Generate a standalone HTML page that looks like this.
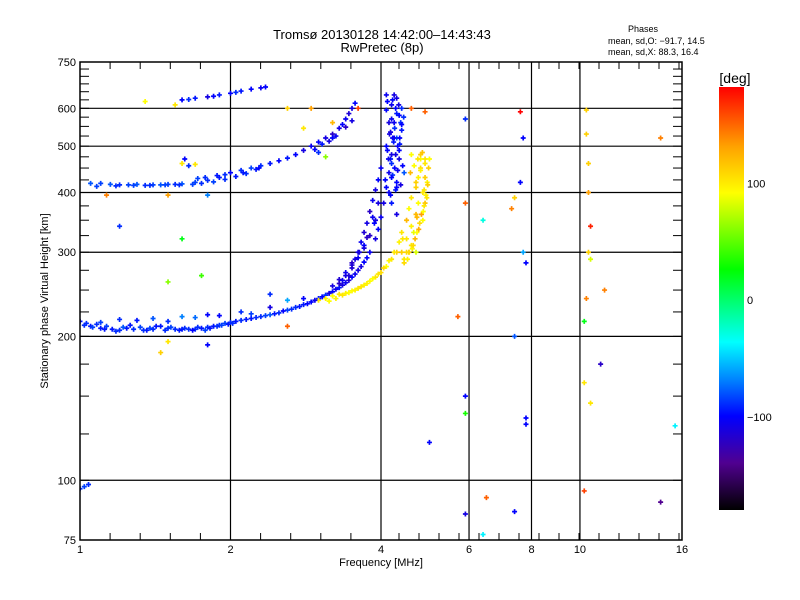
<!DOCTYPE html>
<html><head><meta charset="utf-8"><style>
html,body{margin:0;padding:0;background:#fff;}
svg{display:block;font-family:"Liberation Sans",sans-serif;}
</style></head><body>
<svg id="chart" width="800" height="600" viewBox="0 0 800 600">
<defs>
<linearGradient id="cbg" x1="0" y1="0" x2="0" y2="1">
<stop offset="0" stop-color="#ff0000"/><stop offset="0.139" stop-color="#ffa000"/>
<stop offset="0.25" stop-color="#ffff00"/><stop offset="0.431" stop-color="#00ff00"/>
<stop offset="0.603" stop-color="#00ffff"/><stop offset="0.694" stop-color="#0080ff"/>
<stop offset="0.778" stop-color="#0000ff"/><stop offset="0.889" stop-color="#500090"/>
<stop offset="1" stop-color="#000000"/>
</linearGradient>
<clipPath id="pc"><rect x="80" y="62" width="602" height="478"/></clipPath>
</defs>
<text x="382" y="39" text-anchor="middle" font-size="13">Tromsø 20130128 14:42:00–14:43:43</text>
<text x="382" y="52" text-anchor="middle" font-size="13">RwPretec (8p)</text>
<text x="643" y="32" text-anchor="middle" font-size="9">Phases</text>
<text x="608" y="44" font-size="9">mean, sd,O: −91.7, 14.5</text>
<text x="608" y="55" font-size="9">mean, sd,X:  88.3, 16.4</text>
<g id="grid"></g>
<g id="marks" clip-path="url(#pc)"></g>
<rect x="80" y="62" width="602" height="478" fill="none" stroke="#000" stroke-width="1.5"/>
<g id="ticks"></g>
<text x="381" y="566" text-anchor="middle" font-size="11">Frequency [MHz]</text>
<text transform="translate(48,301) rotate(-90)" text-anchor="middle" font-size="11">Stationary phase Virtual Height [km]</text>
<rect x="719" y="87" width="25" height="423" fill="url(#cbg)"/>
<text x="735" y="83" text-anchor="middle" font-size="14">[deg]</text>
<g id="cbticks"></g>
</svg>
<script>
const xTicks=[1,2,4,6,8,10,16];
const yTicks=[75,100,200,300,400,500,600,750];
const yGrid=[100,200,300,400,500,600];
const xGrid=[2,4,6,8,10];
const cbLabels=[100,0,-100];
const F=[1.0,1.03,1.05,1.08,1.1,1.13,1.16,1.2,1.24,1.28,1.32,1.36,1.4,1.45,1.5,1.55,1.6,1.65,1.7,1.75,1.8,1.85,1.9,1.95,2.0,2.05,2.1,2.2,2.3,2.4,2.5,2.6,2.7,2.8,2.9,3.0,3.1,3.2,3.3,3.4,3.5,3.6,3.7,3.8,3.9,3.95,4.0,4.05,4.1,4.15,4.2,4.22,4.25,4.28,4.3,
1.2,1.4,1.6,1.8,2.1,2.4,2.6,2.8,1.1,1.3,1.5,1.7,1.9,2.2,
3.2,3.3,3.4,3.5,3.6,3.65,3.7,3.75,3.8,3.85,3.9,3.95,4.0,3.45,3.55,3.7,3.85,
4.15,4.3,4.2,4.35,4.1,4.3,4.4,4.15,4.35,4.2,4.4,4.25,4.35,4.45,4.1,4.2,4.3,4.12,4.38,4.25,
3.0,3.1,3.2,3.3,3.4,3.5,3.6,3.7,3.8,3.9,4.0,4.1,4.2,4.3,4.35,4.4,4.5,4.55,4.6,4.7,4.75,4.8,4.8,4.4,4.5,4.6,4.7,4.75,4.85,4.9,4.7,4.6,4.85,4.9,4.95,4.9,4.8,4.65,4.55,4.45,
1.05,1.1,1.15,1.2,1.25,1.3,1.35,1.4,1.45,1.5,1.55,1.6,1.7,1.8,1.9,2.0,2.1,2.2,2.3,2.4,2.5,2.6,2.7,2.8,2.9,3.0,3.1,3.2,3.3,3.35,3.4,3.45,3.5,3.55,
1.6,1.65,1.7,1.8,1.85,1.9,2.0,2.05,2.1,2.2,2.3,2.35,
1.6,1.65,1.7,1.62,1.0,1.02,1.04,
1.13,1.5,1.8,1.2,1.6,1.5,1.75,5.9,5.9,6.4,7.3,7.6,7.7,7.6,7.4,7.7,7.8,7.4,5.7,5.9,5.9,7.8,7.8,5.0,10.3,10.3,10.4,10.4,10.5,10.4,10.5,10.3,10.2,10.2,11,11.2,10.5,14.5,15.5,10.2,14.5,6.5,5.9,6.4,7.4,1.5,1.8,1.45,2.6,2.4,3.6,2.6,2.8,3.2,4.6,4.9,1.35,1.55,2.9,3.1,
1.02,1.06,1.12,1.18,1.22,1.26,1.34,1.38,1.42,1.48,1.52,1.58,1.62,1.68,1.72,1.78,1.82,1.88,1.92,1.98,2.02,2.15,2.25,2.35,2.45,2.55,2.65,2.75,2.85,2.95,3.05,3.15,3.25,3.35,3.45,3.55,3.65,3.75,
3.3,3.4,3.5,3.6,3.7,3.8,3.9,3.35,3.5,3.62,3.75,3.88,3.95,
4.18,4.28,4.38,4.08,4.22,4.32,4.42,4.18,4.28,4.12,4.32,4.24,4.36,4.16,4.26,4.4,4.2,4.3,4.1,4.34,4.22,4.44,4.14,4.26,4.36,4.18,4.3,4.2,
4.45,4.55,4.62,4.68,4.72,4.78,4.82,4.88,4.92,4.96,4.58,4.66,4.74,4.84,4.52,4.64,4.76,4.86,4.94,4.7,4.8,4.9,4.6,4.5,4.42,4.98,5.0,4.72,4.88,3.15,3.25,3.35,3.45,3.55,3.65,3.75,3.85,3.95,4.05,4.15,4.25,
2.95,3.05,3.15,3.25,3.4,3.5,3.0,3.2,1.08,1.18,1.28,1.38,1.48,1.58,1.68,1.75,1.85,1.95,2.05,2.15,2.25,1.72,1.78,1.88,1.95,2.12,2.28];
const H=[215,213,210,212,208,210,207,206,208,207,209,206,207,210,208,207,207,207,207,208,209,210,211,213,214,215,216,218,220,222,224,227,230,233,236,240,244,248,253,259,266,275,286,300,320,335,355,380,410,440,480,520,560,600,630,
217,218,220,222,225,230,238,240,214,216,215,219,221,223,
255,263,272,285,300,315,330,345,365,385,405,425,450,268,290,310,355,
400,420,460,470,500,520,540,560,580,610,600,640,490,440,640,380,360,620,560,520,
238,240,243,245,246,249,252,256,261,266,272,280,290,300,315,330,350,370,390,410,430,450,470,300,320,340,360,380,400,430,300,310,350,380,420,460,480,330,300,285,
418,418,416,415,415,416,414,415,415,416,416,417,420,424,430,440,445,450,455,460,466,472,480,490,500,510,520,530,545,555,570,585,600,615,
625,626,630,634,636,640,645,648,652,658,662,665,
460,455,458,470,96,97,98,
395,395,395,340,320,260,268,570,380,350,370,590,520,420,390,300,285,200,220,150,138,135,131,120,595,530,460,400,340,300,290,240,215,160,175,250,145,520,130,95,90,92,85,77,86,195,192,185,210,245,600,600,545,560,600,590,620,610,600,475,
211,209,207,205,209,211,206,208,210,206,209,206,208,206,209,206,208,210,211,212,213,217,219,221,223,226,228,231,234,238,242,246,251,256,262,270,280,292,
258,268,278,292,306,325,350,262,282,300,322,345,380,
395,405,415,425,435,445,455,470,480,490,500,510,520,530,545,555,570,585,595,610,625,575,470,450,505,535,410,430,
290,300,305,320,330,345,360,375,395,415,440,455,470,485,290,310,335,365,390,420,445,470,480,300,320,450,470,355,405,237,240,244,247,250,254,258,264,270,278,288,300,
492,505,512,525,548,565,485,520,412,413,414,414,415,415,416,418,421,426,432,438,447,428,430,434,436,440,450];
const P=[-95,-90,-95,-90,-95,-85,-95,-90,-95,-90,-85,-95,-90,-95,-90,-90,-95,-90,-90,-95,-90,-95,-90,-85,-90,-95,-90,-95,-90,-80,-90,-85,-90,-95,-100,-95,-90,-100,-95,-105,-100,-110,-100,-105,-110,-100,-105,-110,-100,-105,-110,-100,-105,-100,-110,
-90,-80,-70,-100,-90,-110,-60,-100,-85,-95,-90,-75,-100,-85,
-110,-115,-105,-120,-110,-105,-115,-110,-120,-105,-110,-100,-105,-115,-110,-100,-105,
-105,-100,-90,-110,-100,-80,-95,-110,-100,-105,-90,-110,-100,-80,-105,-95,-110,-100,-90,-105,
100,95,90,100,95,90,100,95,90,100,105,90,100,110,95,100,120,90,100,110,95,105,90,110,100,95,120,90,100,110,80,100,90,115,95,100,110,85,95,105,
-80,-85,-80,-90,-85,-80,-90,-85,-80,-85,-90,-80,-85,-90,-95,-100,-90,-85,-90,-95,-100,-95,-100,-110,-105,-100,-110,-120,-110,-100,-105,-115,-110,-100,
-100,-90,-95,-110,-100,-95,-100,-90,-95,-100,-105,-100,
100,-90,100,-100,-90,-85,-90,
140,130,-70,-90,20,60,40,-90,150,-30,140,180,-100,-100,110,-60,-100,-80,150,-100,30,-100,-100,-100,110,110,110,130,170,110,80,140,20,100,-120,140,100,140,-40,160,-140,150,-110,-40,-100,100,-100,110,150,-90,160,110,100,120,150,150,90,100,130,60,
-90,-85,-95,-90,-80,-95,-90,-85,-95,-90,-85,-95,-90,-100,-90,-85,-95,-90,-85,-95,-90,-95,-90,-85,-95,-100,-90,-95,-100,-105,-100,-110,-105,-110,-115,-105,-110,-100,
-120,-110,-115,-105,-110,-120,-110,-105,-115,-110,-120,-100,-110,
-100,-95,-110,-100,-90,-105,-100,-95,-110,-100,-105,-95,-100,-110,-90,-100,-105,-95,-100,-110,-100,-90,-105,-100,-95,-110,-100,-100,
100,110,95,120,90,105,130,100,95,110,120,90,100,115,95,105,125,90,100,110,95,100,90,105,100,110,90,120,100,90,95,100,90,95,100,95,90,100,105,95,100,
-100,-95,-110,-105,-120,-110,-90,-100,-85,-90,-85,-90,-85,-90,-85,-90,-85,-90,-95,-90,-95,-85,-90,-95,-90,-95,-100];
const X0=80,PXO=150.5,Y0=540,PYD=478;
function xs(f){return X0+PXO*Math.log2(f);}
function ys(h){return Y0-PYD*Math.log10(h/75);}
const stops=[[180,255,0,0],[130,255,160,0],[90,255,255,0],[25,0,255,0],[-37,0,255,255],[-70,0,128,255],[-100,0,0,255],[-140,80,0,144],[-180,0,0,0]];
function col(p){p=Math.max(-180,Math.min(180,p));for(let i=0;i<stops.length-1;i++){const a=stops[i],b=stops[i+1];if(p<=a[0]&&p>=b[0]){const t=(a[0]-p)/(a[0]-b[0]);return `rgb(${Math.round(a[1]+t*(b[1]-a[1]))},${Math.round(a[2]+t*(b[2]-a[2]))},${Math.round(a[3]+t*(b[3]-a[3]))})`;}}return '#000';}
const NS='http://www.w3.org/2000/svg';
function mk(tag,attrs,parent){const e=document.createElementNS(NS,tag);for(const k in attrs)e.setAttribute(k,attrs[k]);parent.appendChild(e);return e;}
const grid=document.getElementById('grid'),ticks=document.getElementById('ticks'),marks=document.getElementById('marks'),cbt=document.getElementById('cbticks');
yGrid.forEach(h=>{const l=mk('line',{x1:80,x2:682,y1:ys(h),y2:ys(h),stroke:'#000','stroke-width':1.2},grid);

});
xGrid.forEach(f=>{const l=mk('line',{x1:xs(f),x2:xs(f),y1:62,y2:540,stroke:'#000','stroke-width':1.2},grid);

});
for(let h=100;h<750;h+=25){const y=ys(h);mk('line',{x1:80,x2:89,y1:y,y2:y,stroke:'#000'},ticks);mk('line',{x1:673,x2:682,y1:y,y2:y,stroke:'#000'},ticks);}
for(let i=1;i<10;i++){const x=80+30.1*i;mk('line',{x1:x,x2:x,y1:62,y2:69,stroke:'#000'},ticks);mk('line',{x1:x,x2:x,y1:533,y2:540,stroke:'#000'},ticks);}
for(let x=399;x<682;x+=20){mk('line',{x1:x,x2:x,y1:62,y2:69,stroke:'#000'},ticks);mk('line',{x1:x,x2:x,y1:533,y2:540,stroke:'#000'},ticks);}
xTicks.forEach(f=>{const t=mk('text',{x:xs(f),y:553,'text-anchor':'middle','font-size':11},ticks);t.textContent=f;

});
yTicks.forEach(h=>{const t=mk('text',{x:76,y:ys(h)+4,'text-anchor':'end','font-size':11},ticks);t.textContent=h;

});
cbLabels.forEach(v=>{const y=87+(183-v)/363*423;const t=mk('text',{x:747,y:y+4,'font-size':11},cbt);t.textContent=(v<0?'−':'')+Math.abs(v);

});
for(let i=0;i<F.length;i++){const x=xs(F[i]),y=ys(H[i]);
const p=mk('path',{d:`M${x-2.5} ${y}h5M${x} ${y-2.5}v5`,stroke:col(P[i]),'stroke-width':1.7},marks);

}
</script>
</body></html>
